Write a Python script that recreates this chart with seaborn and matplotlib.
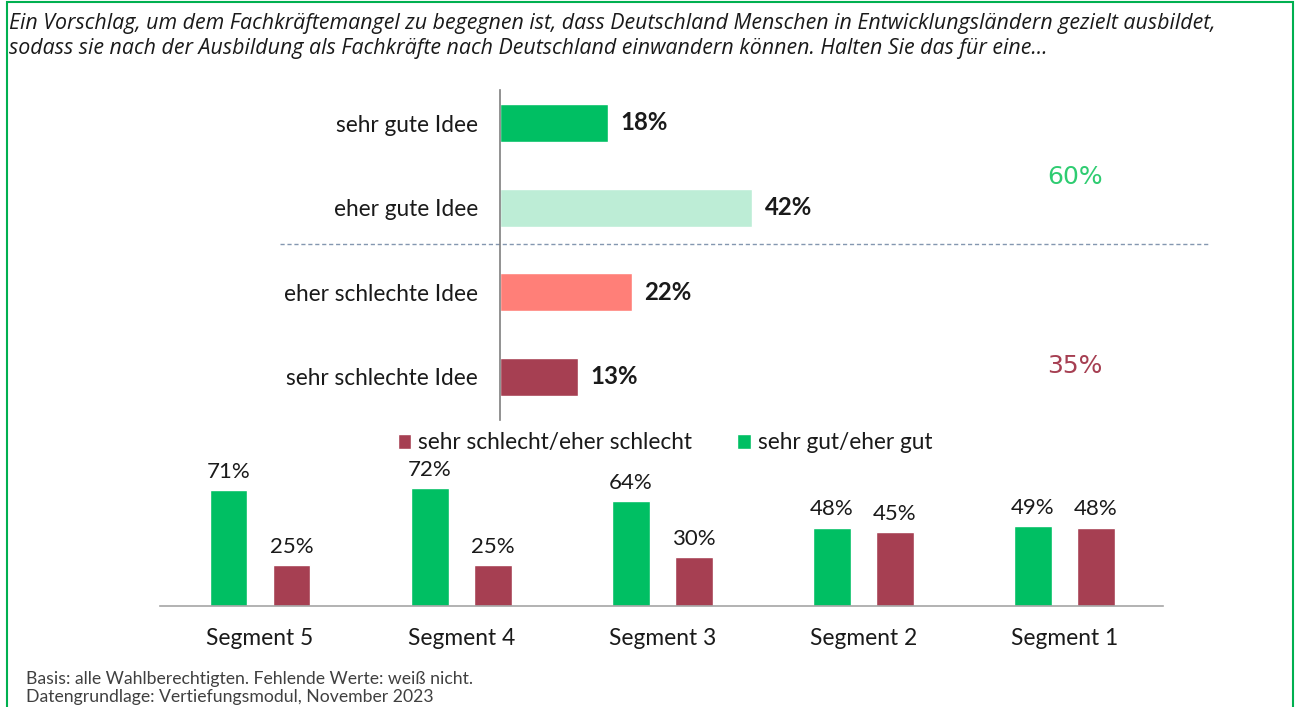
import matplotlib
matplotlib.use("Agg")
import matplotlib.pyplot as plt
import seaborn as sns
import pandas as pd
from matplotlib.patches import Rectangle
from matplotlib.lines import Line2D

# ---------------- data ----------------
title_lines = [
    "Ein Vorschlag, um dem Fachkräftemangel zu begegnen ist, dass Deutschland Menschen in Entwicklungsländern gezielt ausbildet,",
    "sodass sie nach der Ausbildung als Fachkräfte nach Deutschland einwandern können. Halten Sie das für eine…",
]
answer_categories = ["sehr gute Idee", "eher gute Idee", "eher schlechte Idee", "sehr schlechte Idee"]
answer_values = [18, 42, 22, 13]
total_good = "60%"
total_bad = "35%"

segments = ["Segment 5", "Segment 4", "Segment 3", "Segment 2", "Segment 1"]
series_names = ["sehr gut/eher gut", "sehr schlecht/eher schlecht"]
good_values = [71, 72, 64, 48, 49]
bad_values = [25, 25, 30, 45, 48]

footnotes = [
    "Basis: alle Wahlberechtigten. Fehlende Werte: weiß nicht.",
    "Datengrundlage: Vertiefungsmodul, November 2023",
]

# ---------------- style ----------------
GREEN = "#00BF63"
LIGHT_GREEN = "#BDEDD6"
SALMON = "#FF7F78"
DARK_RED = "#A63F52"
TEXT = "#1A1A1A"

sns.set_theme(style="white")
plt.rcParams["font.family"] = ["Lato", "DejaVu Sans"]

W, H = 1298, 707
fig = plt.figure(figsize=(W / 100, H / 100), dpi=100)
fig.patch.set_facecolor("white")


def rect(left, top, right, bottom):
    return [left / W, 1 - bottom / H, (right - left) / W, (bottom - top) / H]


# border
fig.patches.append(Rectangle((7 / W, -0.05), (1293 - 7) / W, 1.05 - 2 / H,
                             transform=fig.transFigure, fill=False,
                             edgecolor="#00B050", linewidth=1.5))

# title
for i, line in enumerate(title_lines):
    fig.text(9 / W, 1 - (29 + 25 * i) / H, line, ha="left", va="baseline",
             fontsize=15.4, style="italic", color=TEXT,
             family=["Open Sans", "DejaVu Sans"])

# ---------------- top chart ----------------
ax1 = fig.add_axes(rect(500, 90, 1210, 420))
df1 = pd.DataFrame({"Antwort": answer_categories, "Wert": answer_values})
sns.barplot(data=df1, y="Antwort", x="Wert", hue="Antwort", order=answer_categories,
            hue_order=answer_categories,
            palette=[GREEN, LIGHT_GREEN, SALMON, DARK_RED], legend=False,
            width=0.45, ax=ax1, saturation=1, dodge=False)
ax1.set_xlim(0, 710 / 6)
ax1.set_ylim(3.51, -0.39)
ax1.set_xlabel("")
ax1.set_ylabel("")
ax1.set_xticks([])
for s in ["top", "right", "bottom"]:
    ax1.spines[s].set_visible(False)
ax1.spines["left"].set_color("#7F7F7F")
ax1.spines["left"].set_linewidth(1.2)
ax1.tick_params(axis="y", length=0, pad=16, labelsize=16.3, labelcolor=TEXT)
for c in ax1.containers:
    ax1.bar_label(c, fmt="{:.0f}%", padding=9,
                  fontsize=17.3, fontweight="bold", color=TEXT)

# separator dashed line
ax1.add_line(Line2D([(280 - 500) / 6, 710 / 6], [1.43, 1.43], color="#8497B0",
                    linestyle=(0, (3, 2)), linewidth=1, clip_on=False))

fig.text(1075 / W, 1 - 177 / H, total_good, ha="center", va="center",
         fontsize=18, color="#2ECC71", family="DejaVu Sans")
fig.text(1075 / W, 1 - 366 / H, total_bad, ha="center", va="center",
         fontsize=18, color=DARK_RED, family="DejaVu Sans")

# ---------------- bottom chart ----------------
ax2 = fig.add_axes(rect(160, 425, 1163, 606))
df2 = pd.DataFrame({
    "Segment": segments * 2,
    "Serie": [series_names[0]] * len(segments) + [series_names[1]] * len(segments),
    "Wert": good_values + bad_values,
})
sns.barplot(data=df2, x="Segment", y="Wert", hue="Serie", order=segments,
            hue_order=series_names, palette=[GREEN, DARK_RED], width=0.627,
            gap=0.4, ax=ax2, saturation=1)
ax2.set_xlim(-0.4975, 4.49)
ax2.set_ylim(0, 181 / 1.635)
ax2.set_xlabel("")
ax2.set_ylabel("")
ax2.set_yticks([])
for s in ["top", "right", "left"]:
    ax2.spines[s].set_visible(False)
ax2.spines["bottom"].set_color("#A6A6A6")
ax2.spines["bottom"].set_linewidth(1.2)
ax2.tick_params(axis="x", length=0, pad=16, labelsize=16.4, labelcolor=TEXT)
for c in ax2.containers:
    ax2.bar_label(c, fmt="{:.0f}%", padding=6, fontsize=16, color=TEXT)

handles, labels = ax2.get_legend_handles_labels()
ax2.legend(handles[::-1], labels[::-1], ncol=2, loc="center",
           bbox_to_anchor=((665 - 160) / 1003, (606 - 443) / 181),
           frameon=False, fontsize=16.3, handlelength=0.6, handleheight=0.6,
           handletextpad=0.3, columnspacing=2.0, labelcolor=TEXT)

# footnotes
for i, line in enumerate(footnotes):
    fig.text(26 / W, 1 - (684 + 18 * i) / H, line, ha="left", va="baseline",
             fontsize=12.7, color="#404040")

fig.savefig("out.png", dpi=100, facecolor="white")
